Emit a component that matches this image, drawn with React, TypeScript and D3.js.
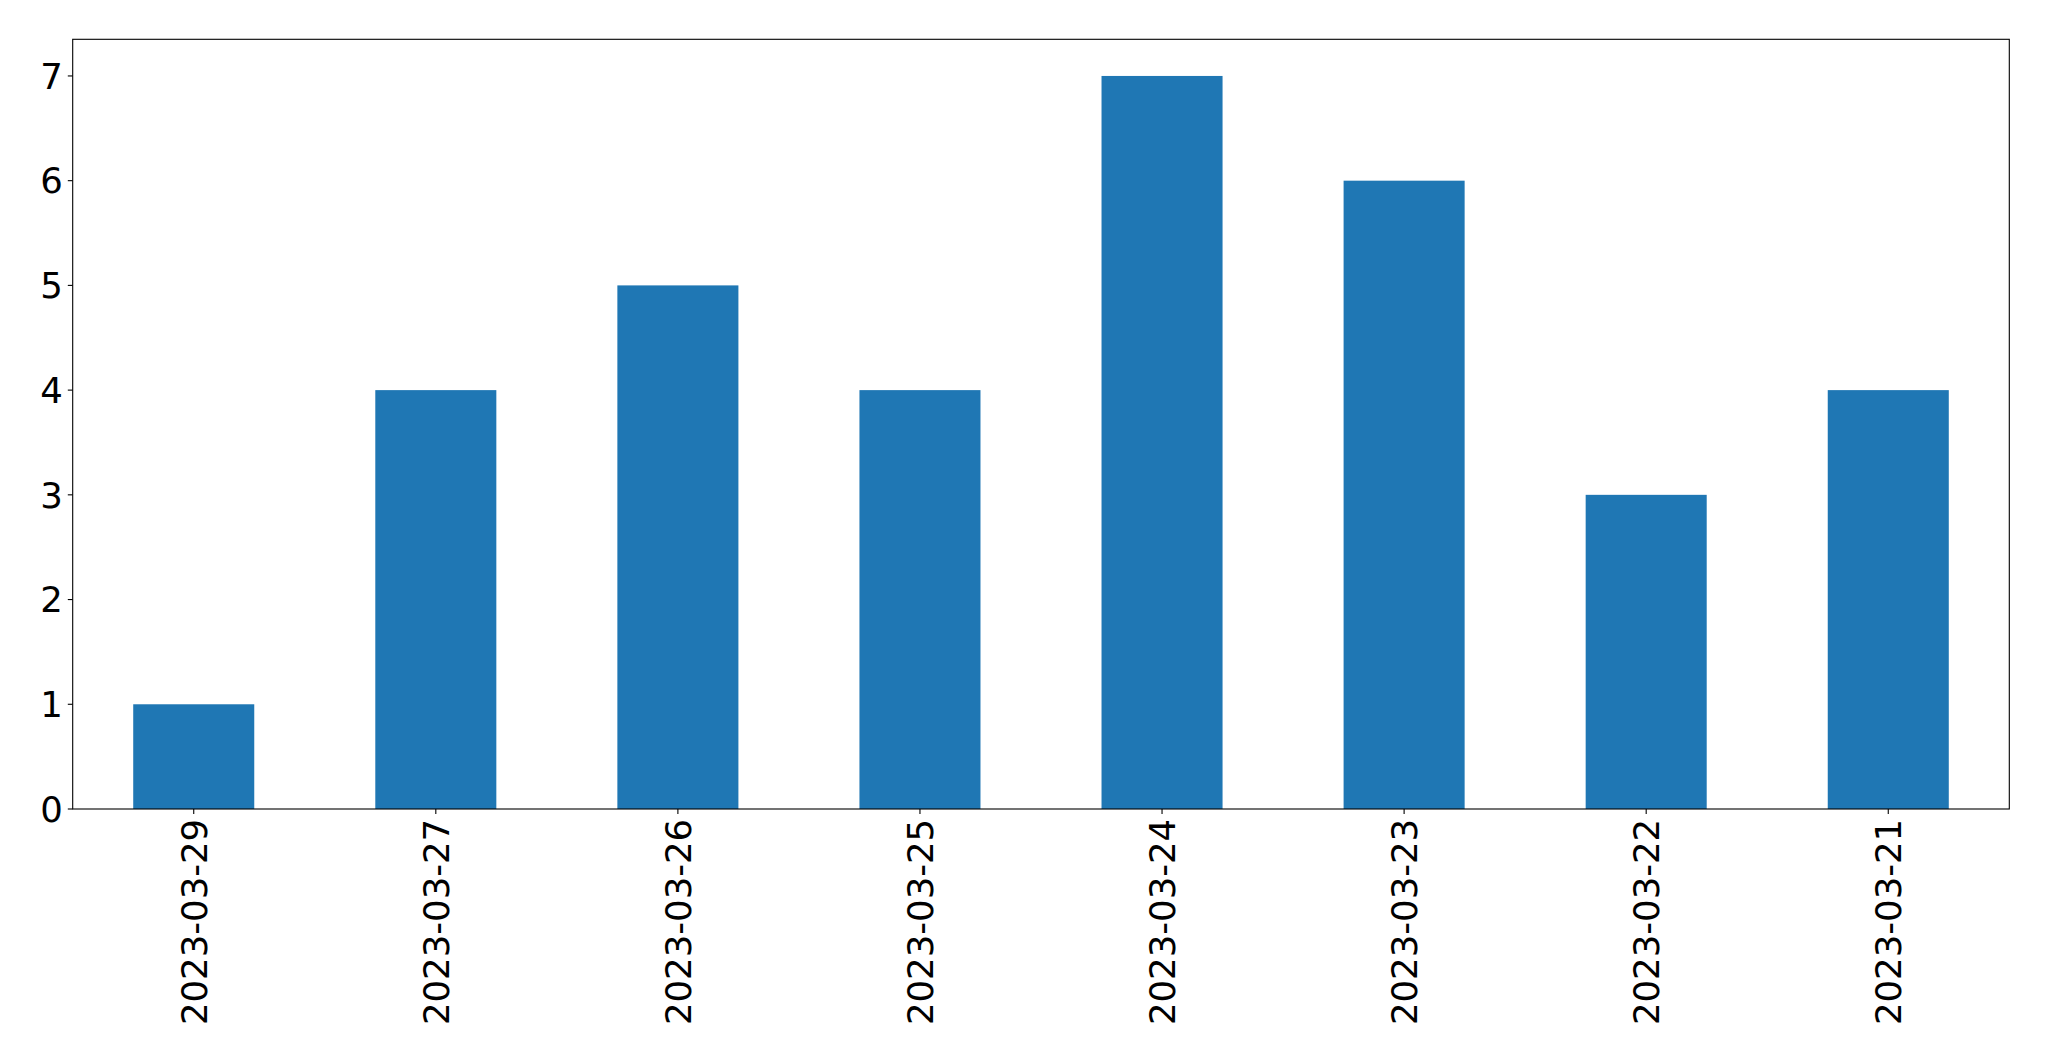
import React from 'react';
import * as d3 from 'd3';

const dates = [
  '2023-03-29',
  '2023-03-27',
  '2023-03-26',
  '2023-03-25',
  '2023-03-24',
  '2023-03-23',
  '2023-03-22',
  '2023-03-21',
];
const counts = [1, 4, 5, 4, 7, 6, 3, 4];
const yTicks = [0, 1, 2, 3, 4, 5, 6, 7];

const W = 2049;
const H = 1061;
const margin = { top: 39.3, right: W - 2009.3, bottom: H - 809, left: 72.7 };
const fontSize = 35.5;
const tickLen = 4.9;
const tickPad = 4.9;

const App: React.FC = () => {
  const innerW = W - margin.left - margin.right;
  const innerH = H - margin.top - margin.bottom;

  // bars sit on integer positions, xlim is -0.5..n-0.5 like matplotlib
  const x = d3.scalePoint<string>().domain(dates).range([0, innerW]).padding(0.5);
  const barW = x.step() * 0.5;
  const y = d3.scaleLinear().domain([0, 7.35]).range([innerH, 0]);

  return (
    <svg
      width={W}
      height={H}
      style={{ position: 'absolute', left: 0, top: 0, background: '#fff' }}
      fontFamily="'DejaVu Sans', sans-serif"
    >
      <g transform={`translate(${margin.left},${margin.top})`}>
        {dates.map((d, i) => (
          <rect
            key={d}
            x={(x(d) ?? 0) - barW / 2}
            y={y(counts[i])}
            width={barW}
            height={innerH - y(counts[i])}
            fill="#1f77b4"
          />
        ))}

        {/* y axis ticks */}
        {yTicks.map((t) => (
          <g key={t} transform={`translate(0,${y(t)})`}>
            <line x1={-tickLen} x2={0} stroke="#000" strokeWidth={1.1} />
            <text
              x={-tickLen - tickPad}
              dy="0.36em"
              textAnchor="end"
              fontSize={fontSize}
              fill="#000"
            >
              {t}
            </text>
          </g>
        ))}

        {/* x axis ticks, rotated labels */}
        {dates.map((d) => (
          <g key={d} transform={`translate(${x(d)},${innerH})`}>
            <line y1={0} y2={tickLen} stroke="#000" strokeWidth={1.1} />
            <text
              transform={`translate(0,${tickLen + tickPad}) rotate(-90)`}
              dy="0.36em"
              textAnchor="end"
              fontSize={fontSize}
              fill="#000"
            >
              {d}
            </text>
          </g>
        ))}

        <rect
          x={0}
          y={0}
          width={innerW}
          height={innerH}
          fill="none"
          stroke="#000"
          strokeWidth={1.1}
        />
      </g>
    </svg>
  );
};

export default App;
